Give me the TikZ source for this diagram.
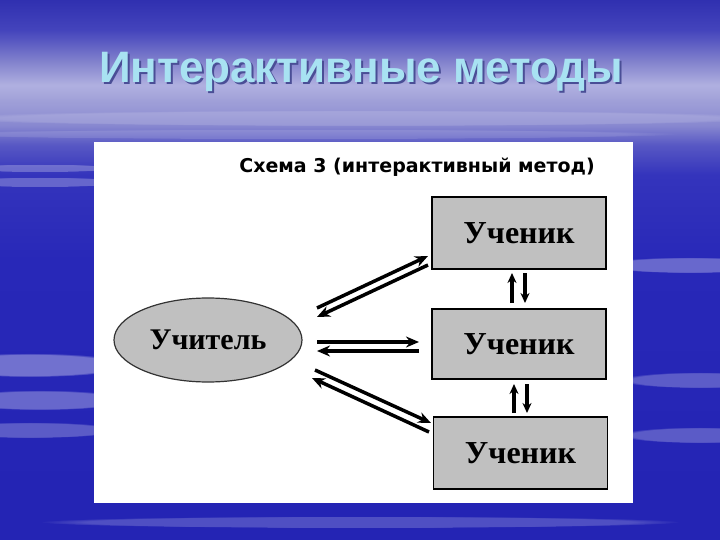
\documentclass[tikz,border=0pt]{standalone}
\usepackage{fontspec}
\setmainfont{Liberation Serif}
\newfontfamily\titlefont{Liberation Sans}
\newfontfamily\subfont{DejaVu Sans}
\usetikzlibrary{arrows.meta,shapes.geometric,fadings}
\definecolor{bgA}{HTML}{2424B4}
\definecolor{bgB}{HTML}{2828B8}
\definecolor{bgC}{HTML}{3434BC}
\definecolor{bgD}{HTML}{5858C4}
\definecolor{bgE}{HTML}{8888D0}
\definecolor{bgF}{HTML}{A0A0D8}
\definecolor{bgG}{HTML}{B0B0E0}
\definecolor{bgH}{HTML}{8080CC}
\definecolor{bgI}{HTML}{4444BC}
\definecolor{bgJ}{HTML}{3030B0}
\definecolor{titlecol}{HTML}{A8E2F2}
\definecolor{titleshadow}{HTML}{4A4E96}
\definecolor{boxfill}{HTML}{C0C0C0}
\pgfdeclareverticalshading{slidebg}{100bp}{color(0bp)=(bgA); color(25bp)=(bgA); color(28.7bp)=(bgA); color(50.9bp)=(bgB); color(58.8bp)=(bgC); color(61.6bp)=(bgD); color(63.4bp)=(bgE); color(65.7bp)=(bgF); color(67.1bp)=(bgG); color(69.4bp)=(bgH); color(72.2bp)=(bgI); color(75bp)=(bgJ); color(100bp)=(bgJ)}
\newcommand{\shadowtext}[1]{\rlap{\kern2pt\raisebox{-2pt}{\textcolor{titleshadow}{#1}}}\textcolor{titlecol}{#1}}
\tikzset{
  student/.style={draw=black, line width=1.6pt, fill=boxfill, minimum width=174pt, inner sep=0pt, font=\bfseries\fontsize{32}{36}\selectfont},
  teacher/.style={ellipse, draw=black!80, line width=1.2pt, fill=boxfill, minimum width=188pt, minimum height=84pt, inner sep=0pt, font=\bfseries\fontsize{30}{34}\selectfont},
  arr/.style={line width=3.5pt, -{Stealth[length=13pt,width=11pt]}},
  varr/.style={line width=3.5pt, -{Stealth[length=10pt,width=9pt]}},
  streak/.style={fill=white, path fading=circle with fuzzy edge 15 percent}
}
\begin{document}
\begin{tikzpicture}[x=1pt,y=-1pt]
\useasboundingbox (0,0) rectangle (720,540);
% background
\shade[shading=slidebg] (0,0) rectangle (720,540);
\fill[streak, opacity=0.15] (360,118) ellipse (420 and 8);
\fill[streak, opacity=0.12] (300,134) ellipse (380 and 5);
\fill[streak, opacity=0.25] (40,168) ellipse (80 and 4);
\fill[streak, opacity=0.25] (40,182) ellipse (90 and 5);
\fill[streak, opacity=0.35] (30,365) ellipse (100 and 12);
\fill[streak, opacity=0.30] (40,400) ellipse (90 and 10);
\fill[streak, opacity=0.25] (30,430) ellipse (90 and 8);
\fill[streak, opacity=0.30] (690,265) ellipse (90 and 8);
\fill[streak, opacity=0.25] (700,380) ellipse (80 and 8);
\fill[streak, opacity=0.25] (700,435) ellipse (80 and 8);
\fill[streak, opacity=0.20] (360,522) ellipse (320 and 6);
% title
\node[font=\titlefont\bfseries\fontsize{44}{48}\selectfont] (title) at (361,73) {\shadowtext{Интерактивные методы}};
% white panel
\fill[white] (94,142) rectangle (633,503);
\node[font=\subfont\bfseries\fontsize{19}{22}\selectfont] (sub) at (417,167) {Схема 3 (интерактивный метод)};
% nodes
\node[student, minimum height=72pt] (s1) at (519,233) {Ученик};
\node[student, minimum height=70pt] (s2) at (519,344) {Ученик};
\node[student, minimum height=72pt] (s3) at (520.5,453) {Ученик};
\node[teacher] (t) at (208,340) {Учитель};
% arrow endpoints
\coordinate (a1s) at (317,308); \coordinate (a1e) at (428,256);
\coordinate (a2s) at (428,265); \coordinate (a2e) at (317,317);
\coordinate (b1s) at (317,342); \coordinate (b1e) at (419,342);
\coordinate (b2s) at (419,351); \coordinate (b2e) at (317,351);
\coordinate (c1s) at (315,370); \coordinate (c1e) at (431,423);
\coordinate (c2s) at (429,432); \coordinate (c2e) at (312,378);
\coordinate (u1s) at (512,303); \coordinate (u1e) at (512,273);
\coordinate (d1s) at (525,273); \coordinate (d1e) at (525,303);
\coordinate (u2s) at (514,413); \coordinate (u2e) at (514,384);
\coordinate (d2s) at (527,384); \coordinate (d2e) at (527,413);
\draw[arr] (a1s) -- (a1e);
\draw[arr] (a2s) -- (a2e);
\draw[arr] (b1s) -- (b1e);
\draw[arr] (b2s) -- (b2e);
\draw[arr] (c1s) -- (c1e);
\draw[arr] (c2s) -- (c2e);
\draw[varr] (u1s) -- (u1e);
\draw[varr] (d1s) -- (d1e);
\draw[varr] (u2s) -- (u2e);
\draw[varr] (d2s) -- (d2e);
\end{tikzpicture}
\end{document}
